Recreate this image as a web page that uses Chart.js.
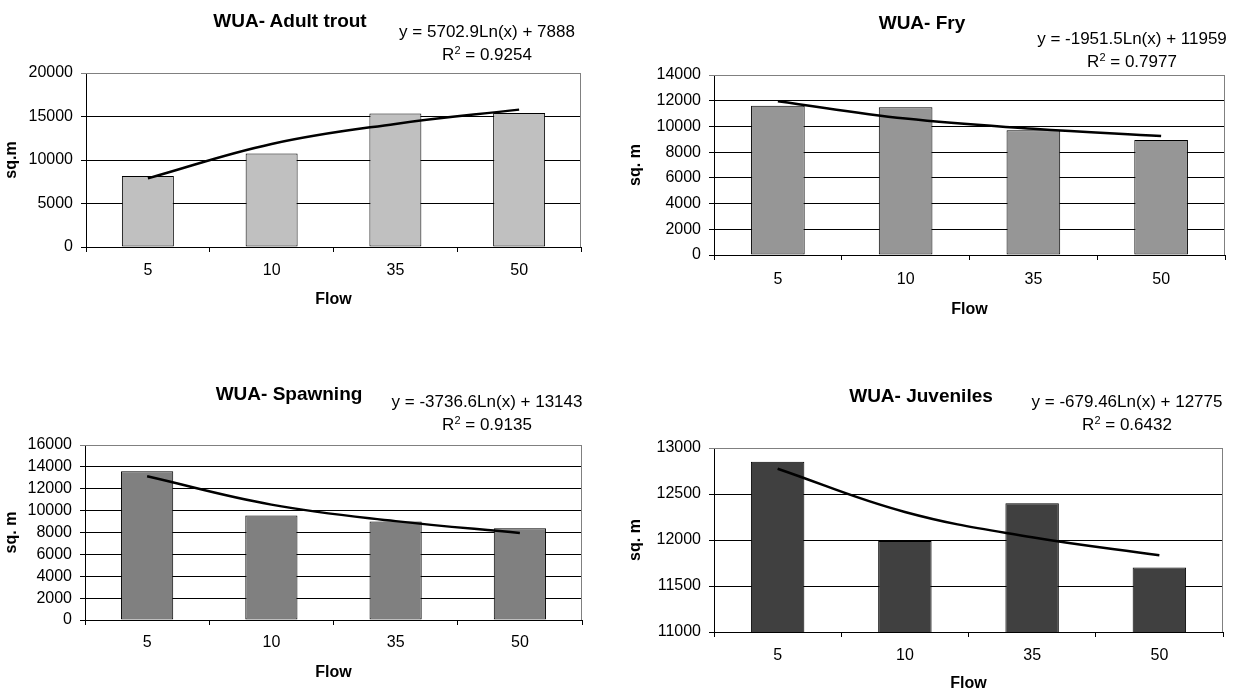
<!DOCTYPE html>
<html>
<head>
<meta charset="utf-8">
<title>WUA charts</title>
<script src="https://cdn.jsdelivr.net/npm/chart.js@4.4.0/dist/chart.umd.min.js"></script>
<style>
  html, body { margin: 0; padding: 0; background: #fff; }
  #page { position: relative; width: 1239px; height: 693px; overflow: hidden; font-family: 'Liberation Sans', Arial, sans-serif; color: #000; }
  .panel { position: absolute; }
  .panel canvas { position: absolute; left: 0; top: 0; }
  .title { position: absolute; font-weight: bold; font-size: 19px; transform: translate(-50%, -50%); white-space: nowrap; }
  .eq { position: absolute; font-size: 17px; line-height: 23px; text-align: center; transform: translateX(-50%); white-space: nowrap; }
  .eq sup { font-size: 11px; vertical-align: 6px; line-height: 0; }
</style>
</head>
<body>
<div id="page"></div>
<script>
const FONT = "'Liberation Sans', Arial, sans-serif";

// categories
const flowLabels = ['5', '10', '35', '50'];

// bar values (sq. m)
const adultValues = [8150, 10750, 15350, 15400];
const fryValues = [11600, 11500, 9700, 8950];
const spawningValues = [13600, 9550, 9000, 8400];
const juvenileValues = [12850, 11990, 12400, 11700];

// log trendline heights at each category
const adultTrend = [7890, 11840, 14150, 15790];
const fryTrend = [11960, 10610, 9820, 9250];
const spawningTrend = [13140, 10550, 9040, 7960];
const juvenileTrend = [12775, 12305, 12030, 11835];

// titles and trendline labels
const chartTitles = ['WUA- Adult trout', 'WUA- Fry', 'WUA- Spawning', 'WUA- Juveniles'];
const equations = [
  'y = 5702.9Ln(x) + 7888',
  'y = -1951.5Ln(x) + 11959',
  'y = -3736.6Ln(x) + 13143',
  'y = -679.46Ln(x) + 12775'
];
const rSquared = ['0.9254', '0.7977', '0.9135', '0.6432'];
const yTitles = ['sq.m', 'sq. m', 'sq. m', 'sq. m'];
const xTitle = 'Flow';

// y axis ranges
const yMins = [0, 0, 0, 11000];
const yMaxs = [20000, 14000, 16000, 13000];
const ySteps = [5000, 2000, 2000, 500];

const seriesValues = [adultValues, fryValues, spawningValues, juvenileValues];
const seriesTrend = [adultTrend, fryTrend, spawningTrend, juvenileTrend];
const barColors = ['#c0c0c0', '#969696', '#808080', '#404040'];

// layout of the four panels (page pixels)
const panels = [
  { x: 0,   y: 0,   w: 619, h: 320, plot: { l: 86, r: 581, t: 73, b: 247 }, yTitleX: 12, xLabelY: 271, xTitleY: 300, titleX: 290, titleY: 21, eqX: 487, eqY: 31 },
  { x: 620, y: 0,   w: 619, h: 320, plot: { l: 94, r: 605, t: 75, b: 255 }, yTitleX: 16, xLabelY: 280, xTitleY: 310, titleX: 922, titleY: 23, eqX: 1132, eqY: 38 },
  { x: 0,   y: 370, w: 619, h: 323, plot: { l: 85, r: 582, t: 75, b: 250 }, yTitleX: 12, xLabelY: 273, xTitleY: 303, titleX: 289, titleY: 394, eqX: 487, eqY: 401 },
  { x: 620, y: 370, w: 619, h: 323, plot: { l: 94, r: 603, t: 78, b: 262 }, yTitleX: 16, xLabelY: 286, xTitleY: 314, titleX: 921, titleY: 396, eqX: 1127, eqY: 401 }
];

const plotFrame = {
  id: 'plotFrame',
  beforeDatasetsDraw(chart) {
    const { ctx, chartArea: a } = chart;
    ctx.save();
    ctx.strokeStyle = '#808080';
    ctx.lineWidth = 1;
    ctx.beginPath();
    ctx.moveTo(a.left, a.top + 0.5);
    ctx.lineTo(Math.round(a.right) - 0.5, a.top + 0.5);
    ctx.lineTo(Math.round(a.right) - 0.5, a.bottom);
    ctx.stroke();
    ctx.restore();
  }
};

const page = document.getElementById('page');

panels.forEach((p, i) => {
  const panel = document.createElement('div');
  panel.className = 'panel';
  panel.style.left = p.x + 'px';
  panel.style.top = p.y + 'px';
  panel.style.width = p.w + 'px';
  panel.style.height = p.h + 'px';
  const canvas = document.createElement('canvas');
  canvas.width = p.w;
  canvas.height = p.h;
  canvas.style.width = p.w + 'px';
  canvas.style.height = p.h + 'px';
  panel.appendChild(canvas);
  page.appendChild(panel);

  const title = document.createElement('div');
  title.className = 'title';
  title.style.left = p.titleX + 'px';
  title.style.top = p.titleY + 'px';
  title.textContent = chartTitles[i];
  page.appendChild(title);

  const eq = document.createElement('div');
  eq.className = 'eq';
  eq.style.left = p.eqX + 'px';
  eq.style.top = (p.eqY - 11.5) + 'px';
  eq.innerHTML = equations[i] + '<br>R<sup>2</sup> = ' + rSquared[i];
  page.appendChild(eq);

  const yMax = yMaxs[i];

  new Chart(canvas, {
    type: 'bar',
    data: {
      labels: flowLabels,
      datasets: [{
        type: 'line',
        data: seriesTrend[i],
        borderColor: '#000',
        borderWidth: 2.5,
        pointRadius: 0,
        tension: 0.4,
        fill: false,
        order: 0
      }, {
        type: 'bar',
        data: seriesValues[i],
        backgroundColor: barColors[i],
        borderColor: '#000',
        borderWidth: 1,
        borderSkipped: false,
        barPercentage: 0.42,
        categoryPercentage: 1,
        order: 1
      }]
    },
    options: {
      responsive: false,
      animation: false,
      layout: {
        padding: { left: 0, top: p.plot.t, right: p.w - p.plot.r, bottom: p.h - (p.xTitleY + 8) }
      },
      plugins: {
        legend: { display: false },
        tooltip: { enabled: false }
      },
      scales: {
        x: {
          ticks: { color: '#000', font: { family: FONT, size: 16 }, padding: p.xLabelY - p.plot.b - 5 - 9.6, maxRotation: 0 },
          grid: { display: true, drawOnChartArea: false, drawTicks: true, tickLength: 5, color: '#000', offset: true },
          border: { color: '#000', width: 1 },
          title: { display: true, text: xTitle, color: '#000', font: { family: FONT, size: 16, weight: 'bold', lineHeight: 1 }, padding: { top: 0, bottom: 0 } },
          afterFit: (s) => { s.height = p.xTitleY + 8 - p.plot.b; }
        },
        y: {
          min: yMins[i],
          max: yMax,
          ticks: { stepSize: ySteps[i], autoSkip: false, color: '#000', font: { family: FONT, size: 16 }, padding: 8, callback: (v) => String(v) },
          grid: { color: (c) => (c.tick && c.tick.value === yMax ? '#808080' : '#000'), tickLength: 5, lineWidth: 1 },
          border: { color: '#000', width: 1 },
          title: { display: true, text: yTitles[i], color: '#000', font: { family: FONT, size: 16, weight: 'bold', lineHeight: 1 }, padding: { top: p.yTitleX - 8, bottom: 0 } },
          afterFit: (s) => { s.width = p.plot.l; }
        }
      }
    },
    plugins: [plotFrame]
  });
});
</script>
</body>
</html>
